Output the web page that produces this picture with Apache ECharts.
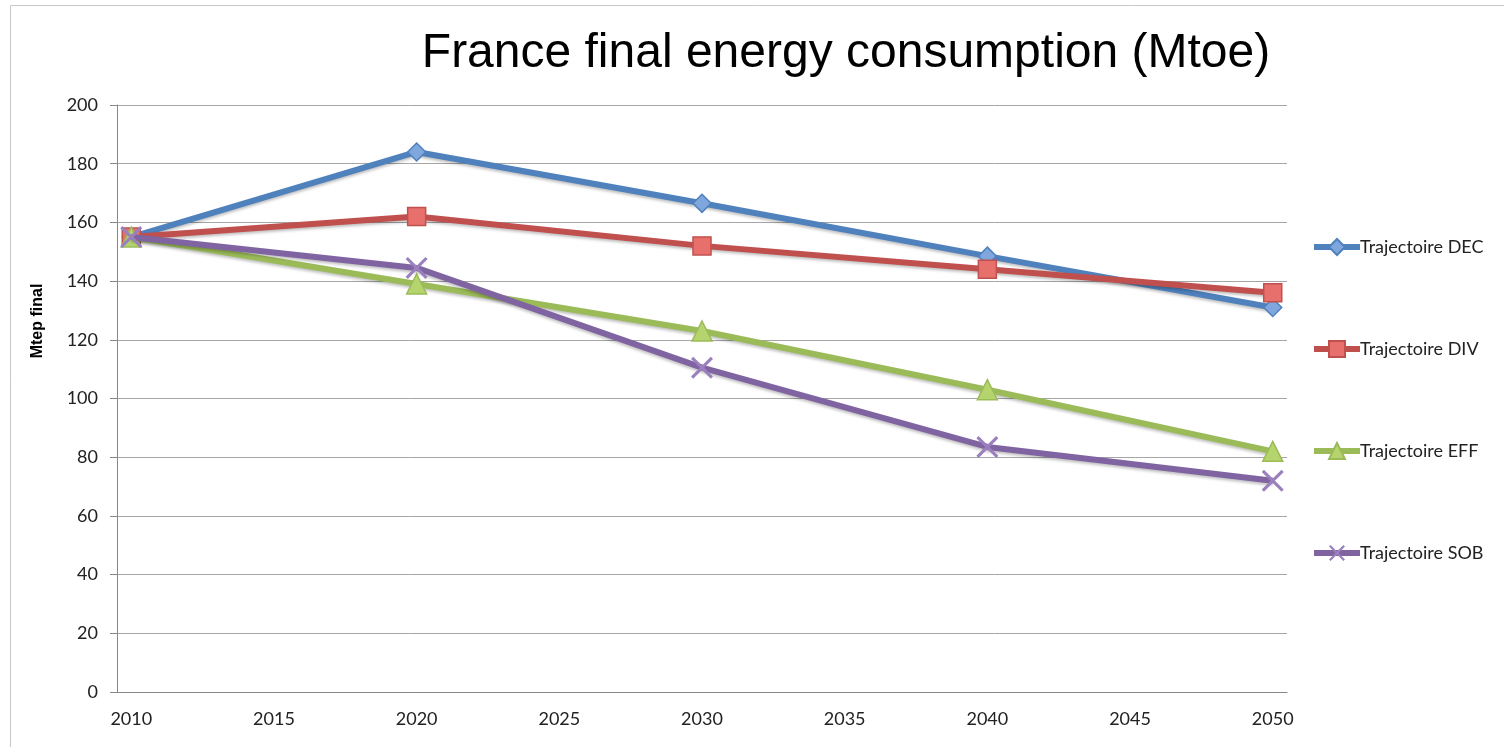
<!DOCTYPE html>
<html>
<head>
<meta charset="utf-8">
<script src="https://cdn.jsdelivr.net/npm/echarts@6/dist/echarts.min.js"></script>
<style>
  html, body { margin: 0; padding: 0; background: #fff; }
  #chart { width: 1504px; height: 747px; }
</style>
</head>
<body>
<div id="chart"></div>
<script>
// every year 2010..2050 is a category, as in the Excel original
const years = [];
for (let y = 2010; y <= 2050; y++) years.push(String(y));

const pointYears = ["2010", "2020", "2030", "2040", "2050"];
const dec = [155, 184, 166.5, 148.5, 131];
const div = [155, 162, 152, 144, 136];
const eff = [155, 139, 123, 103, 82];
const sob = [155, 144.5, 110.5, 83.5, 72];

const names = ["Trajectoire DEC", "Trajectoire DIV", "Trajectoire EFF", "Trajectoire SOB"];
const colors = ["#4F81BD", "#C0504D", "#9BBB59", "#8064A2"];
const fills = ["#7FA7DD", "#E8706C", "#B5D46E", "#9A80BC"];

const crossPath = "path://M0,1 L1,0 L5,4 L9,0 L10,1 L6,5 L10,9 L9,10 L5,6 L1,10 L0,9 L4,5 Z";
const symbols = ["diamond", "rect", "triangle", crossPath];
const sizes = [18, 18, 20, 22];

const label = "Lato, 'Open Sans', sans-serif";

function pairs(vals) {
    return pointYears.map((y, i) => [y, vals[i]]);
}

const chart = echarts.init(document.getElementById("chart"));

chart.setOption({
    animation: false,
    title: {
        text: "France final energy consumption (Mtoe)",
        left: 841,
        top: 25,
        textAlign: "center",
        textStyle: {
            fontFamily: "'Liberation Sans', Arial, sans-serif",
            fontSize: 48,
            fontWeight: "normal",
            color: "#000"
        }
    },
    graphic: [
        {
            type: "rect",
            shape: { x: 10.5, y: 5.5, width: 1600, height: 800 },
            style: { fill: "none", stroke: "#c8c8c8", lineWidth: 1 },
            silent: true
        },
        {
            type: "text",
            x: 38,
            y: 321,
            rotation: Math.PI / 2,
            style: {
                text: "Mtep final",
                fontFamily: "'Liberation Sans', Arial, sans-serif",
                fontWeight: "bold",
                fontSize: 16,
                fill: "#000",
                align: "center",
                verticalAlign: "middle"
            }
        }
    ],
    legend: {
        orient: "vertical",
        left: 1306,
        top: 233,
        itemGap: 84,
        itemWidth: 46,
        itemHeight: 20,
        lineStyle: { width: 6 },
        textStyle: { fontFamily: label, fontSize: 18, color: "#222", padding: [0, 0, 0, -5] },
        data: names
    },
    grid: {
        left: 117,
        right: 217,
        top: 105,
        bottom: 55
    },
    xAxis: {
        type: "category",
        data: years,
        boundaryGap: true,
        axisLine: { lineStyle: { color: "#888", width: 1 } },
        axisTick: { interval: 0, length: 7, lineStyle: { color: "#888" } },
        axisLabel: {
            interval: 4,
            margin: 18,
            fontFamily: label,
            fontSize: 18,
            color: "#222"
        },
        splitLine: { show: false }
    },
    yAxis: {
        type: "value",
        min: 0,
        max: 200,
        interval: 20,
        axisLine: { show: true, lineStyle: { color: "#888", width: 1 } },
        axisTick: { show: true, length: 7, lineStyle: { color: "#888" } },
        axisLabel: {
            margin: 19,
            fontFamily: label,
            fontSize: 18,
            color: "#222"
        },
        splitLine: { lineStyle: { color: "#a6a6a6", width: 1 } }
    },
    series: [dec, div, eff, sob].map((vals, i) => ({
        name: names[i],
        type: "line",
        data: pairs(vals),
        symbol: symbols[i],
        symbolSize: sizes[i],
        lineStyle: {
            color: colors[i],
            width: 6,
            shadowColor: "rgba(0,0,0,0.25)",
            shadowBlur: 3,
            shadowOffsetY: 2
        },
        itemStyle: {
            color: fills[i],
            borderColor: colors[i],
            borderWidth: i === 3 ? 0 : 1.5
        },
        z: 2 + i
    }))
});
</script>
</body>
</html>
